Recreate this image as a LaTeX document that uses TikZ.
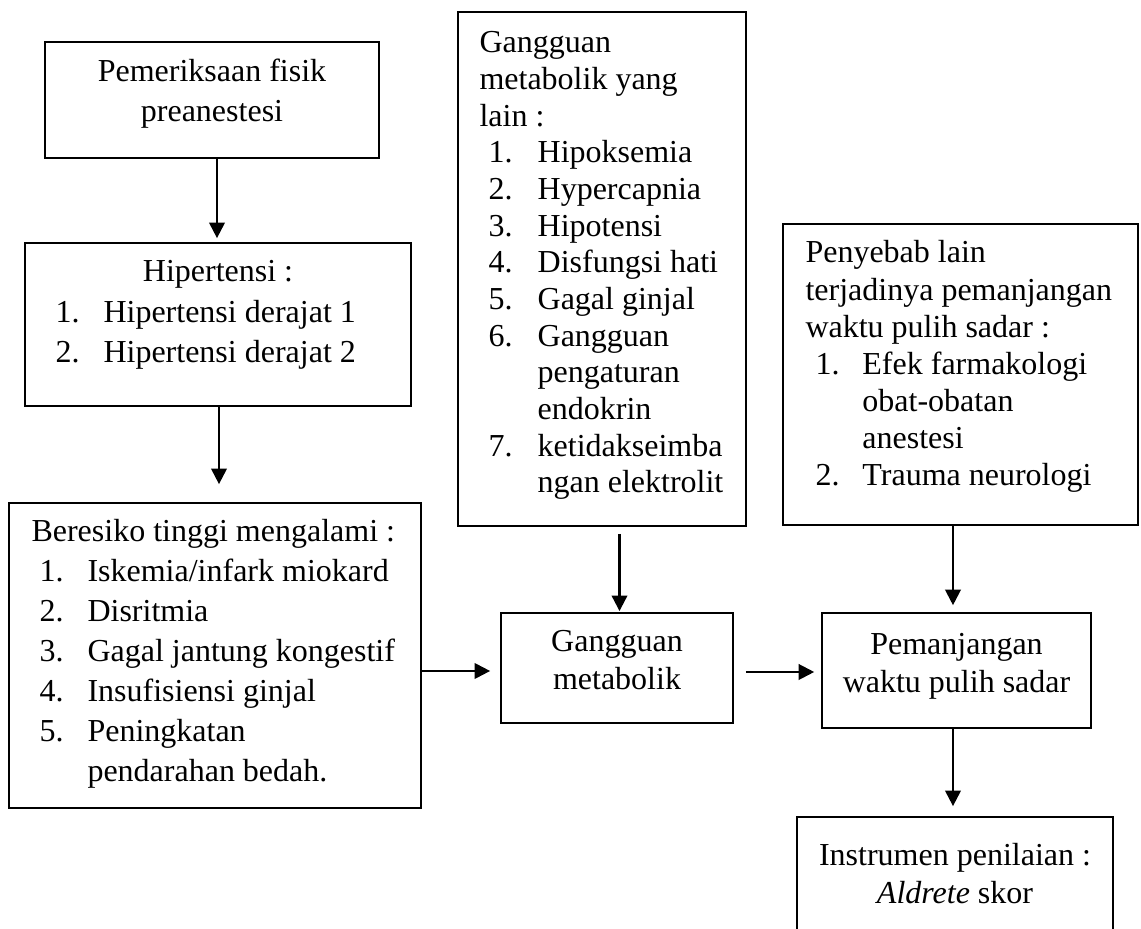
\documentclass[tikz,border=0pt]{standalone}
\usepackage{fontspec}
\setmainfont{Liberation Serif}
\usetikzlibrary{arrows.meta,calc,fit}
\newcommand{\nb}[2][18pt]{\makebox[#1][l]{#2}}
\newcommand{\fs}[1]{\fontsize{12}{#1}\selectfont}
\newcommand{\wsp}{\spaceskip=3pt\relax\xspaceskip=3pt\relax}
\begin{document}
\begin{tikzpicture}[x=0.375pt,y=-0.375pt,
  box/.style={draw, line width=0.65pt, inner sep=0pt},
  arr/.style={line width=0.8pt, -{Triangle[length=5.8pt,width=5.8pt]}},
  lt/.style={inner sep=0pt, anchor=base west, align=left, execute at begin node=\wsp},
  ct/.style={inner sep=0pt, anchor=base, align=center, execute at begin node=\wsp}]
\clip (0,0) rectangle (1141,929);
% boxes
\node[box, fit={(45,42) (379,158)}] (b1) {};
\node[box, fit={(25,243) (411,406)}] (b2) {};
\node[box, fit={(9,503) (421,808)}] (b3) {};
\node[box, fit={(458,12) (746,526)}] (b4) {};
\node[box, fit={(501,613) (733,723)}] (b5) {};
\node[box, fit={(783,224) (1138,525)}] (b6) {};
\node[box, fit={(822,613) (1091,728)}] (b7) {};
\node[box, fit={(797,817) (1113,960)}] (b8) {};
% texts
\node[ct, text width=125pt, font=\fs{15}] (t1) at (212,82) {Pemeriksaan fisik\\preanestesi};
\node[ct, text width=125pt, font=\fs{15}] (t2h) at (218,282) {Hipertensi :};
\node[lt, text width=130pt, font=\fs{15}] (t2) at (55,323) {\nb{1.}Hipertensi derajat 1\\\nb{2.}Hipertensi derajat 2};
\node[lt, text width=150pt, font=\fs{15}] (t3) at (31,542) {Beresiko tinggi mengalami :\\
\hspace*{3pt}\nb{1.}Iskemia/infark miokard\\
\hspace*{3pt}\nb{2.}Disritmia\\
\hspace*{3pt}\nb{3.}Gagal jantung kongestif\\
\hspace*{3pt}\nb{4.}Insufisiensi ginjal\\
\hspace*{3pt}\nb{5.}Peningkatan\\
\hspace*{21pt}pendarahan bedah.};
\node[lt, text width=100pt, font=\fs{13.75}] (t4) at (479,53) {Gangguan\\metabolik yang\\lain :\\
\hspace*{3.4pt}\nb[18.4pt]{1.}Hipoksemia\\
\hspace*{3.4pt}\nb[18.4pt]{2.}Hypercapnia\\
\hspace*{3.4pt}\nb[18.4pt]{3.}Hipotensi\\
\hspace*{3.4pt}\nb[18.4pt]{4.}Disfungsi hati\\
\hspace*{3.4pt}\nb[18.4pt]{5.}Gagal ginjal\\
\hspace*{3.4pt}\nb[18.4pt]{6.}Gangguan\\
\hspace*{21.8pt}pengaturan\\
\hspace*{21.8pt}endokrin\\
\hspace*{3.4pt}\nb[18.4pt]{7.}ketidakseimba\\
\hspace*{21.8pt}ngan elektrolit};
\node[ct, text width=85pt, font=\fs{14.25}] (t5) at (617,652) {Gangguan\\metabolik};
\node[lt, text width=128pt, font=\fs{13.9}] (t6) at (805,263) {Penyebab lain\\terjadinya pemanjangan\\waktu pulih sadar :\\
\hspace*{3.75pt}\nb[17.6pt]{1.}Efek farmakologi\\
\hspace*{21.35pt}obat-obatan\\
\hspace*{21.35pt}anestesi\\
\hspace*{3.75pt}\nb[17.6pt]{2.}Trauma neurologi};
\node[ct, text width=100pt, font=\fs{14.25}] (t7) at (956.5,655) {Pemanjangan\\waktu pulih sadar};
\node[ct, text width=115pt, font=\fs{13.9}] (t8) at (955,866) {Instrumen penilaian :\\\textit{Aldrete} skor};
% connectors
\coordinate (a1) at ($(b1.south)+(5,0)$);
\draw[arr, shorten >=1.5pt] (a1) -- (a1 |- b2.north);
\coordinate (a2) at ($(b2.south)+(1,0)$);
\draw[arr, shorten >=6.75pt] (a2) -- (a2 |- b3.north);
\coordinate (a3) at ($(b3.east)+(0,15.5)$);
\draw[arr, shorten >=3.75pt] (a3) -- (a3 -| b5.west);
\coordinate (a4) at ($(b4.south)+(17.5,0)$);
\draw[arr, shorten <=2.6pt, shorten >=0.4pt] (a4) -- (a4 |- b5.north);
\coordinate (a5) at ($(b5.east)+(0,4)$);
\draw[arr, shorten <=4.5pt, shorten >=2.6pt] (a5) -- (a5 -| b7.west);
\coordinate (a6) at ($(b6.south)+(-7.5,0)$);
\draw[arr, shorten >=2.6pt] (a6) -- (a6 |- b7.north);
\coordinate (a7) at ($(b7.south)+(-3.5,0)$);
\draw[arr, shorten >=3.75pt] (a7) -- (a7 |- b8.north);
\end{tikzpicture}
\end{document}
